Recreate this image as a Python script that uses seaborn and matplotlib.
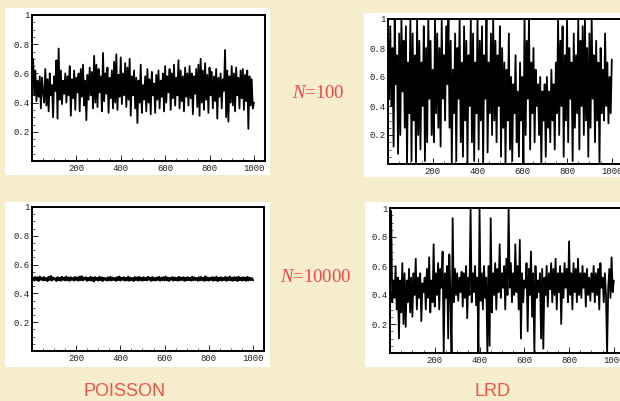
import numpy as np
import seaborn as sns
import matplotlib.pyplot as plt
from matplotlib.patches import Rectangle
from matplotlib.ticker import FixedLocator, MultipleLocator

steps = np.arange(1, 201) * 5

poisson_100 = [
    0.70, 0.45, 0.62, 0.41, 0.55, 0.44, 0.58, 0.36, 0.57, 0.47,
    0.40, 0.63, 0.38, 0.56, 0.34, 0.60, 0.45, 0.52, 0.30, 0.58,
    0.48, 0.69, 0.29, 0.77, 0.42, 0.62, 0.39, 0.55, 0.46, 0.60,
    0.40, 0.58, 0.45, 0.65, 0.31, 0.56, 0.43, 0.62, 0.35, 0.57,
    0.47, 0.60, 0.34, 0.63, 0.44, 0.66, 0.38, 0.55, 0.28, 0.59,
    0.42, 0.64, 0.45, 0.61, 0.36, 0.72, 0.40, 0.66, 0.37, 0.63,
    0.47, 0.58, 0.34, 0.74, 0.41, 0.60, 0.46, 0.64, 0.33, 0.57,
    0.43, 0.62, 0.36, 0.68, 0.40, 0.73, 0.35, 0.59, 0.44, 0.71,
    0.39, 0.60, 0.45, 0.67, 0.37, 0.64, 0.42, 0.70, 0.31, 0.58,
    0.45, 0.62, 0.36, 0.57, 0.26, 0.55, 0.40, 0.66, 0.33, 0.52,
    0.42, 0.58, 0.34, 0.63, 0.40, 0.56, 0.32, 0.61, 0.45, 0.53,
    0.33, 0.59, 0.42, 0.62, 0.36, 0.55, 0.44, 0.60, 0.34, 0.65,
    0.40, 0.58, 0.47, 0.63, 0.35, 0.60, 0.43, 0.66, 0.38, 0.57,
    0.45, 0.69, 0.36, 0.62, 0.41, 0.58, 0.34, 0.64, 0.44, 0.60,
    0.38, 0.65, 0.43, 0.60, 0.32, 0.58, 0.46, 0.63, 0.37, 0.66,
    0.31, 0.70, 0.40, 0.62, 0.35, 0.67, 0.42, 0.59, 0.33, 0.64,
    0.45, 0.61, 0.36, 0.58, 0.41, 0.63, 0.29, 0.57, 0.44, 0.60,
    0.36, 0.56, 0.48, 0.76, 0.30, 0.62, 0.27, 0.58, 0.40, 0.65,
    0.38, 0.60, 0.34, 0.64, 0.45, 0.57, 0.36, 0.62, 0.43, 0.63,
    0.35, 0.59, 0.41, 0.62, 0.22, 0.58, 0.38, 0.56, 0.36, 0.40,
]

lrd_100 = [
    0.45, 0.95, 0.40, 0.80, 0.12, 1.00, 0.55, 0.75, 0.07, 0.90,
    0.20, 1.00, 0.50, 0.85, 0.25, 0.95, 0.00, 0.70, 0.35, 1.00,
    0.02, 0.90, 0.30, 0.75, 0.00, 1.00, 0.20, 0.85, 0.10, 0.70,
    0.40, 0.95, 0.02, 0.80, 0.15, 1.00, 0.45, 0.85, 0.20, 0.65,
    0.15, 1.00, 0.35, 0.90, 0.25, 0.80, 0.12, 1.00, 0.45, 0.75,
    0.30, 0.95, 0.55, 1.00, 0.25, 0.85, 0.00, 0.65, 0.35, 0.90,
    0.02, 0.80, 0.45, 1.00, 0.15, 0.70, 0.05, 0.95, 0.30, 0.85,
    0.00, 0.75, 0.40, 1.00, 0.15, 0.90, 0.02, 0.70, 0.35, 1.00,
    0.10, 0.85, 0.30, 0.95, 0.00, 0.75, 0.45, 1.00, 0.08, 0.70,
    0.35, 0.90, 0.20, 1.00, 0.30, 0.85, 0.15, 0.75, 0.40, 0.95,
    0.05, 0.80, 0.25, 0.70, 0.00, 0.65, 0.30, 0.90, 0.10, 0.60,
    0.02, 0.55, 0.35, 0.75, 0.15, 0.50, 0.05, 0.70, 0.30, 0.60,
    0.00, 1.00, 0.20, 0.85, 0.45, 1.00, 0.10, 0.70, 0.35, 0.80,
    0.15, 0.65, 0.40, 0.55, 0.20, 0.60, 0.00, 0.50, 0.30, 0.55,
    0.05, 0.60, 0.25, 0.50, 0.15, 0.65, 0.30, 0.55, 0.10, 0.70,
    0.35, 1.00, 0.20, 0.85, 0.40, 0.95, 0.05, 0.75, 0.30, 1.00,
    0.15, 0.80, 0.45, 0.70, 0.02, 0.90, 0.25, 0.75, 0.35, 1.00,
    0.10, 0.85, 0.40, 0.95, 0.20, 1.00, 0.30, 0.80, 0.05, 0.90,
    0.25, 1.00, 0.45, 0.75, 0.15, 0.85, 0.30, 0.70, 0.00, 0.80,
    0.35, 0.65, 0.30, 0.90, 0.40, 0.70, 0.28, 0.60, 0.35, 0.72,
]

poisson_10000 = [
    0.508, 0.490, 0.513, 0.494, 0.510, 0.487, 0.516, 0.496, 0.509, 0.491,
    0.512, 0.492, 0.505, 0.486, 0.514, 0.494, 0.520, 0.490, 0.510, 0.497,
    0.504, 0.487, 0.511, 0.493, 0.507, 0.489, 0.514, 0.495, 0.509, 0.491,
    0.516, 0.492, 0.509, 0.488, 0.511, 0.495, 0.506, 0.490, 0.513, 0.494,
    0.510, 0.489, 0.515, 0.493, 0.518, 0.491, 0.508, 0.496, 0.511, 0.488,
    0.506, 0.492, 0.514, 0.490, 0.509, 0.484, 0.512, 0.494, 0.507, 0.489,
    0.515, 0.493, 0.510, 0.487, 0.508, 0.495, 0.505, 0.490, 0.511, 0.492,
    0.514, 0.491, 0.509, 0.494, 0.506, 0.488, 0.512, 0.493, 0.516, 0.490,
    0.508, 0.495, 0.511, 0.489, 0.507, 0.492, 0.515, 0.488, 0.509, 0.493,
    0.506, 0.487, 0.512, 0.494, 0.510, 0.490, 0.514, 0.492, 0.508, 0.489,
    0.511, 0.493, 0.507, 0.491, 0.515, 0.495, 0.509, 0.488, 0.512, 0.492,
    0.506, 0.490, 0.510, 0.494, 0.514, 0.489, 0.508, 0.493, 0.511, 0.491,
    0.516, 0.492, 0.509, 0.488, 0.507, 0.495, 0.512, 0.490, 0.510, 0.493,
    0.506, 0.489, 0.514, 0.492, 0.509, 0.494, 0.511, 0.488, 0.508, 0.491,
    0.512, 0.493, 0.507, 0.490, 0.515, 0.492, 0.510, 0.494, 0.506, 0.489,
    0.511, 0.491, 0.514, 0.493, 0.508, 0.488, 0.518, 0.492, 0.509, 0.490,
    0.507, 0.494, 0.512, 0.489, 0.510, 0.493, 0.515, 0.486, 0.508, 0.492,
    0.511, 0.490, 0.506, 0.494, 0.514, 0.488, 0.509, 0.493, 0.516, 0.491,
    0.508, 0.489, 0.512, 0.492, 0.510, 0.487, 0.515, 0.493, 0.507, 0.490,
    0.511, 0.492, 0.509, 0.488, 0.514, 0.491, 0.508, 0.494, 0.505, 0.492,
]

lrd_10000 = [
    0.98, 0.35, 0.50, 0.38, 0.60, 0.30, 0.52, 0.10, 0.50, 0.28,
    0.62, 0.20, 0.55, 0.18, 0.50, 0.35, 0.58, 0.28, 0.52, 0.25,
    0.55, 0.40, 0.65, 0.30, 0.52, 0.38, 0.55, 0.22, 0.48, 0.42,
    0.52, 0.30, 0.58, 0.38, 0.66, 0.28, 0.50, 0.35, 0.75, 0.32,
    0.55, 0.40, 0.62, 0.30, 0.58, 0.45, 0.70, 0.00, 0.55, 0.38,
    0.60, 0.10, 0.68, 0.40, 0.00, 0.93, 0.35, 0.58, 0.40, 0.55,
    0.36, 0.52, 0.42, 0.56, 0.32, 0.55, 0.38, 0.60, 0.24, 0.52,
    0.40, 1.00, 0.35, 0.55, 0.42, 0.60, 0.33, 0.52, 0.00, 1.00,
    0.36, 0.55, 0.30, 0.60, 0.38, 0.52, 0.00, 0.60, 0.05, 0.93,
    0.28, 0.55, 0.40, 0.62, 0.30, 0.58, 0.42, 0.75, 0.38, 0.55,
    0.45, 0.60, 0.30, 0.65, 0.40, 1.00, 0.45, 0.62, 0.35, 0.55,
    0.40, 0.75, 0.42, 0.60, 0.30, 0.78, 0.10, 0.55, 0.35, 0.50,
    0.45, 0.62, 0.15, 0.58, 0.40, 0.70, 0.25, 0.55, 0.00, 0.60,
    0.38, 0.50, 0.42, 0.55, 0.10, 0.58, 0.03, 0.52, 0.40, 0.60,
    0.32, 0.55, 0.44, 0.62, 0.35, 0.58, 0.40, 0.65, 0.30, 0.55,
    0.42, 0.60, 0.20, 0.55, 0.38, 0.62, 0.45, 0.58, 0.35, 0.77,
    0.40, 0.55, 0.30, 0.62, 0.42, 0.58, 0.35, 0.65, 0.40, 0.55,
    0.38, 0.60, 0.45, 0.55, 0.32, 0.58, 0.40, 0.52, 0.36, 0.55,
    0.42, 0.60, 0.35, 0.55, 0.40, 0.58, 0.30, 0.62, 0.45, 0.52,
    0.35, 0.55, 0.40, 0.00, 0.45, 0.58, 0.38, 0.66, 0.42, 0.50,
]

x_ticks = [200, 400, 600, 800, 1000]
y_ticks = [0, 0.2, 0.4, 0.6, 0.8, 1]
y_tick_labels = ["", "0.2", "0.4", "0.6", "0.8", "1"]

W, H = 620, 401
bg = "#F5EDCC"
red = "#EE5544"

sns.set_style("ticks")
fig = plt.figure(figsize=(W / 100, H / 100), dpi=100, facecolor=bg)
plt.rcParams["mathtext.fontset"] = "custom"
plt.rcParams["mathtext.it"] = "Liberation Serif:italic"
plt.rcParams["mathtext.rm"] = "Liberation Serif"


def box(x0, y0, x1, y1):
    fig.patches.append(Rectangle((x0 / W, 1 - y1 / H), (x1 - x0) / W, (y1 - y0) / H,
                                 transform=fig.transFigure, facecolor="white",
                                 edgecolor="none", zorder=-10))


def panel(x0, y0, x1, y1, values, lw=1.3):
    ax = fig.add_axes([x0 / W, 1 - y1 / H, (x1 - x0) / W, (y1 - y0) / H])
    ax.set_facecolor("white")
    sns.lineplot(x=steps, y=values, ax=ax, color="black", linewidth=lw)
    ax.set_xlim(0, 1050)
    ax.set_ylim(0, 1)
    ax.xaxis.set_major_locator(FixedLocator(x_ticks))
    ax.xaxis.set_minor_locator(MultipleLocator(50))
    ax.yaxis.set_major_locator(FixedLocator(y_ticks))
    ax.yaxis.set_minor_locator(MultipleLocator(0.05))
    ax.set_yticklabels(y_tick_labels)
    ax.tick_params(which="major", direction="in", length=4, width=0.7,
                   labelsize=6.5, colors="#222222", pad=2)
    ax.tick_params(which="minor", direction="in", length=2, width=0.5)
    for lab in ax.get_xticklabels() + ax.get_yticklabels():
        lab.set_family("Liberation Mono")
    for s in ax.spines.values():
        s.set_linewidth(1.4)
        s.set_color("black")
        s.set_visible(True)
    return ax


box(5, 8, 270, 175)
box(364, 13, 620, 177)
box(5, 202, 270, 367)
box(365, 202, 620, 367)

panel(32, 15, 265, 161, poisson_100)
panel(388, 19, 623, 164, lrd_100)
panel(32, 207, 264, 351, poisson_10000, lw=1.6)
panel(390, 208, 625, 353, lrd_10000)

fig.text(318 / W, 1 - 93 / H, r"$N$=100", color="#F04848", fontsize=13.5,
         family="Liberation Serif", ha="center", va="center")
fig.text(316 / W, 1 - 278 / H, r"$N$=10000", color="#F04848", fontsize=13.5,
         family="Liberation Serif", ha="center", va="center")
fig.text(125 / W, 1 - 392 / H, "POISSON", color=red, fontsize=13,
         family="Liberation Sans", ha="center", va="center")
fig.text(492 / W, 1 - 392 / H, "LRD", color=red, fontsize=13,
         family="Liberation Sans", ha="center", va="center")

fig.savefig("out.png", dpi=100, facecolor=bg)
